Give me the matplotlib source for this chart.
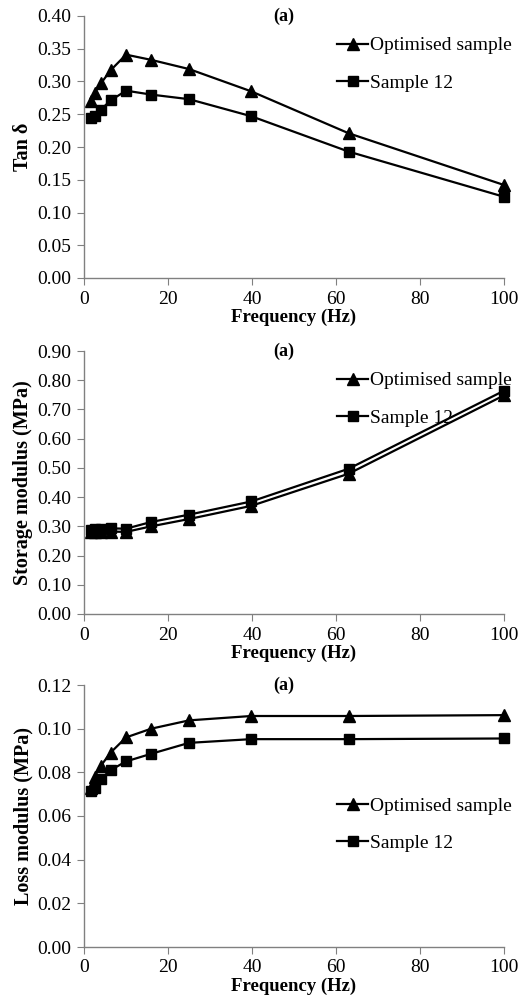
import matplotlib
matplotlib.use("Agg")
import matplotlib.pyplot as plt
import numpy as np

freq = [1.6, 2.5, 4.0, 6.3, 10.0, 16.0, 25.0, 39.8, 63.0, 100.0]

tan_opt = [0.270, 0.283, 0.297, 0.317, 0.341, 0.333, 0.319, 0.285, 0.221, 0.142]
tan_s12 = [0.245, 0.248, 0.257, 0.271, 0.286, 0.280, 0.273, 0.247, 0.193, 0.124]

sto_opt = [0.280, 0.280, 0.281, 0.282, 0.281, 0.300, 0.325, 0.370, 0.480, 0.748]
sto_s12 = [0.288, 0.290, 0.292, 0.293, 0.292, 0.315, 0.340, 0.385, 0.497, 0.764]

loss_opt = [0.0730, 0.0780, 0.0830, 0.0890, 0.0960, 0.1000, 0.1038, 0.1058, 0.1058, 0.1062]
loss_s12 = [0.0715, 0.0730, 0.0770, 0.0810, 0.0850, 0.0885, 0.0935, 0.0952, 0.0952, 0.0955]

labels = ["Optimised sample", "Sample 12"]
ylabels = ["Tan δ", "Storage modulus (MPa)", "Loss modulus (MPa)"]
xlabel = "Frequency (Hz)"
panel = "(a)"

plt.rcParams['font.family'] = ['Liberation Serif', 'DejaVu Serif']

fig = plt.figure(figsize=(5.19, 10), dpi=100)
left, width = 0.162, 0.809
boxes = [(0.722, 0.262), (0.386, 0.263), (0.053, 0.262)]
ylims = [(0, 0.40, 0.05, "%.2f"), (0, 0.90, 0.10, "%.2f"), (0, 0.12, 0.02, "%.2f")]
data = [(tan_opt, tan_s12), (sto_opt, sto_s12), (loss_opt, loss_s12)]
leg_pos = [(0.575, 0.965), (0.575, 0.965), (0.575, 0.615)]

for i in range(3):
    b, h = boxes[i]
    ax = fig.add_axes([left, b, width, h])
    opt, s12 = data[i]
    ax.plot(freq, opt, '-', color='black', lw=1.6, marker='^', ms=8.5, label=labels[0])
    ax.plot(freq, s12, '-', color='black', lw=1.6, marker='s', ms=7, label=labels[1])
    lo, hi, st, fmt = ylims[i]
    ticks = np.arange(lo, hi + st / 2, st)
    ax.set_ylim(lo, hi)
    ax.set_xlim(0, 100)
    ax.set_yticks(ticks)
    ax.set_yticklabels([fmt % v for v in ticks])
    ax.set_xticks([0, 20, 40, 60, 80, 100])
    for s in ['top', 'right']:
        ax.spines[s].set_visible(False)
    for s in ['left', 'bottom']:
        ax.spines[s].set_color('#808080')
        ax.spines[s].set_linewidth(1.0)
    ax.tick_params(axis='both', direction='out', length=5, color='#808080',
                   labelsize=14, pad=4)
    ax.set_xlabel(xlabel, fontsize=13.5, fontweight='bold', labelpad=1)
    ax.set_ylabel(ylabels[i], fontsize=14.5, fontweight='bold', labelpad=3)
    ax.text(0.475, 1.0, panel, transform=ax.transAxes, fontsize=13,
            fontweight='bold', ha='center', va='center')
    ax.legend(loc='upper left', bbox_to_anchor=leg_pos[i], frameon=False,
              fontsize=14, handlelength=1.6, handletextpad=0.1,
              labelspacing=1.0, borderaxespad=0.2)
    for line in ax.get_lines():
        line.set_clip_on(False)

fig.savefig("out.png", dpi=100)
